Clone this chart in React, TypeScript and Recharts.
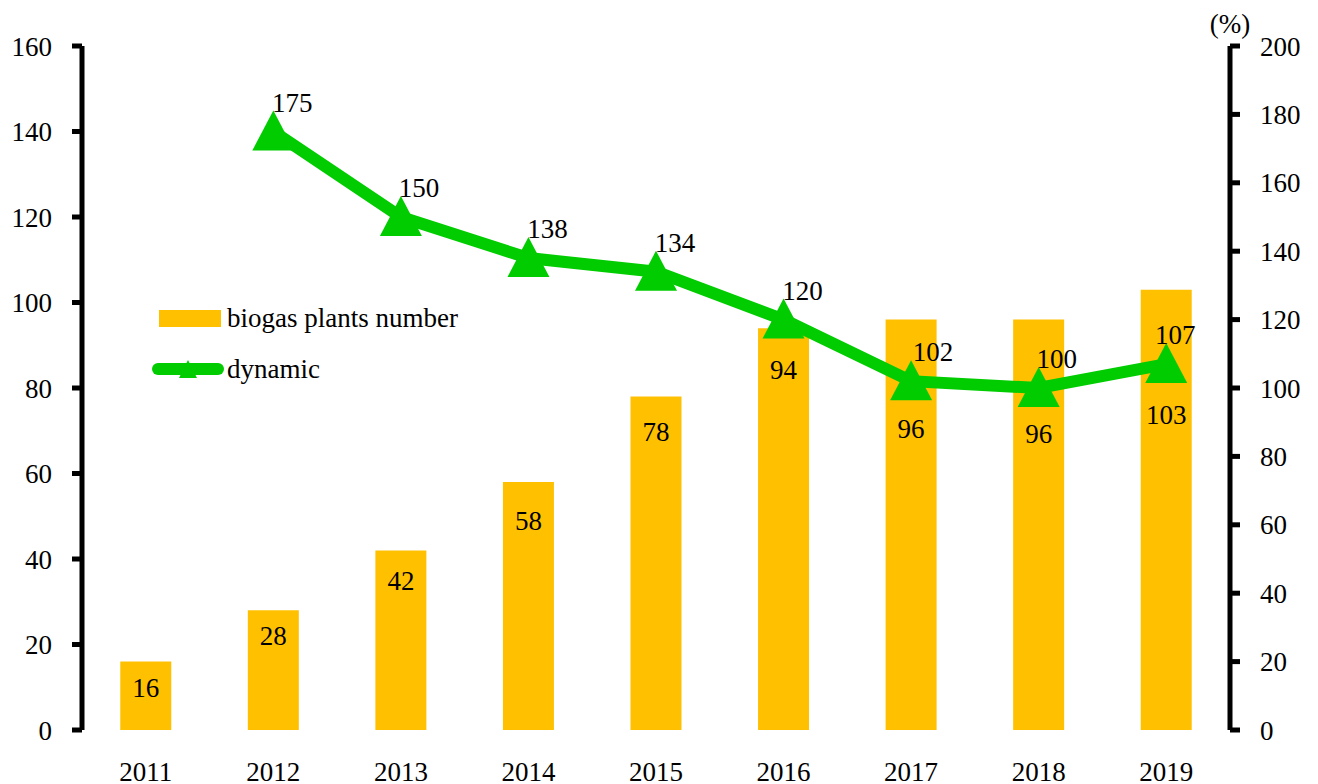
import React from 'react';
import { ComposedChart, Bar, Line, XAxis, YAxis, Legend, LabelList } from 'recharts';

const YEARS = ['2011', '2012', '2013', '2014', '2015', '2016', '2017', '2018', '2019'];
const PLANTS = [16, 28, 42, 58, 78, 94, 96, 96, 103];
const DYNAMIC = [null, 175, 150, 138, 134, 120, 102, 100, 107];

const LEFT_TICKS = [0, 20, 40, 60, 80, 100, 120, 140, 160];
const RIGHT_TICKS = [0, 20, 40, 60, 80, 100, 120, 140, 160, 180, 200];
const EDGE_TICKS = [0, 1, 2, 3, 4, 5, 6, 7, 8, 9];

// hand placed label nudges (px), like the original chart
const BAR_LABEL_DROP = [0, 0, 5, 13, 9, 16, 83, 88, 99];
const LINE_LABEL_DX = [0, 19, 18, 19, 19, 19, 22, 18, 9];

const BAR_COLOR = '#FFC000';
const LINE_COLOR = '#00CC00';
const FONT = '"Liberation Serif", "Times New Roman", serif';
const FS = 27;

const data = YEARS.map((year, i) => ({ year, plants: PLANTS[i], dynamic: DYNAMIC[i] }));

const Triangle = (props: any) => {
  const { cx, cy, value } = props;
  if (value == null || cx == null || cy == null) return null;
  return <polygon points={`${cx},${cy - 21} ${cx - 21},${cy + 19} ${cx + 21},${cy + 19}`} fill={LINE_COLOR} />;
};

const barLabel = (props: any) => {
  const { x, y, width, value, index } = props;
  return (
    <text x={x + width / 2} y={y + 35 + (BAR_LABEL_DROP[index] || 0)} textAnchor="middle" fontSize={FS} fill="#000">
      {value}
    </text>
  );
};

const lineLabel = (props: any) => {
  const { x, y, value, index } = props;
  if (value == null) return null;
  return (
    <text x={x + (LINE_LABEL_DX[index] ?? 19)} y={y - 20} textAnchor="middle" fontSize={FS} fill="#000">
      {value}
    </text>
  );
};

const percentLabel = (props: any) => {
  const vb = props.viewBox || {};
  return (
    <text x={vb.x} y={vb.y - 13} textAnchor="middle" fontSize={FS} fill="#000">
      (%)
    </text>
  );
};

const renderLegend = () => (
  <svg width={380} height={96} style={{ display: 'block', overflow: 'visible' }}>
    <rect x={9} y={14} width={62} height={17} fill={BAR_COLOR} />
    <text x={77} y={31} fontSize={FS} fill="#000">biogas plants number</text>
    <line x1={8} x2={68} y1={73} y2={73} stroke={LINE_COLOR} strokeWidth={12} strokeLinecap="round" />
    <polygon points="38,64 29,82 47,82" fill={LINE_COLOR} />
    <text x={77} y={82} fontSize={FS} fill="#000">dynamic</text>
  </svg>
);

export default function App() {
  const tickStyle = { fontSize: FS, fill: '#000', fontFamily: FONT };
  const axisStroke = { stroke: '#000', strokeWidth: 5 };

  return (
    <div style={{ position: 'fixed', left: 0, top: 0, width: 1318, height: 784, background: '#fff', fontFamily: FONT }}>
      <ComposedChart
        width={1318}
        height={784}
        data={data}
        margin={{ top: 46, right: 0, bottom: 0, left: 0 }}
        barCategoryGap="30%"
      >
        {/* boundary ticks under the categories */}
        <XAxis
          xAxisId="edges"
          type="number"
          domain={[0, 9]}
          ticks={EDGE_TICKS}
          allowDataOverflow
          tick={false}
          height={0}
          tickSize={10}
          tickLine={axisStroke}
          axisLine={axisStroke}
        />
        <XAxis
          dataKey="year"
          height={54}
          tick={tickStyle}
          tickLine={false}
          axisLine={false}
          tickSize={6}
          tickMargin={26}
          interval={0}
        />
        <YAxis
          yAxisId="left"
          orientation="left"
          width={82}
          domain={[0, 160]}
          ticks={LEFT_TICKS}
          tick={tickStyle}
          tickSize={10}
          tickMargin={20}
          tickLine={axisStroke}
          axisLine={axisStroke}
          interval={0}
        />
        <YAxis
          yAxisId="right"
          orientation="right"
          width={88}
          domain={[0, 200]}
          ticks={RIGHT_TICKS}
          tick={tickStyle}
          tickSize={10}
          tickMargin={20}
          tickLine={axisStroke}
          axisLine={axisStroke}
          interval={0}
          label={{ content: percentLabel }}
        />
        <Legend
          layout="vertical"
          align="center"
          verticalAlign="middle"
          content={renderLegend}
          wrapperStyle={{ left: 150, top: 296, width: 380 }}
        />
        <Bar yAxisId="left" dataKey="plants" name="biogas plants number" fill={BAR_COLOR} isAnimationActive={false}>
          <LabelList dataKey="plants" content={barLabel} />
        </Bar>
        <Line
          yAxisId="right"
          dataKey="dynamic"
          name="dynamic"
          stroke={LINE_COLOR}
          strokeWidth={12}
          dot={<Triangle />}
          activeDot={false}
          label={lineLabel}
          isAnimationActive={false}
        />
      </ComposedChart>
    </div>
  );
}
